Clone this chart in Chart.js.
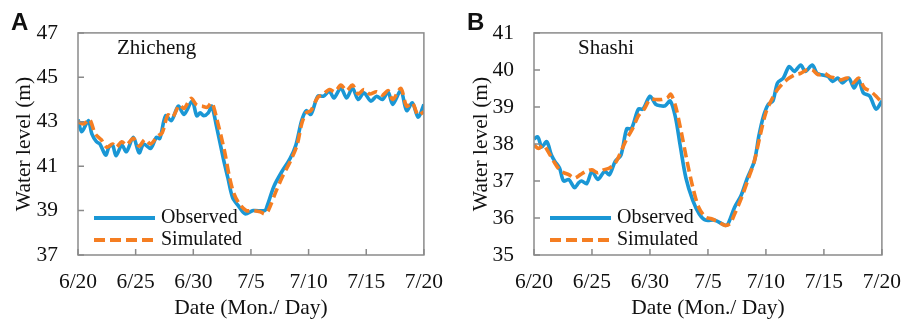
<!DOCTYPE html>
<html>
<head>
<meta charset="utf-8">
<script src="https://cdn.jsdelivr.net/npm/chart.js@4.4.1/dist/chart.umd.min.js"></script>
<style>
  body { margin: 0; background: #fff; }
  #wrap { position: relative; width: 915px; height: 322px; }
  canvas { position: absolute; top: 0; }
  #chartA { left: 0; }
  #chartB { left: 457px; }
</style>
</head>
<body>
<div id="wrap">
  <canvas id="chartA" width="457" height="322"></canvas>
  <canvas id="chartB" width="458" height="322"></canvas>
</div>
<script>
// tick labels, x axis (days since 6/20)
const dateLabels = ['6/20', '6/25', '6/30', '7/5', '7/10', '7/15', '7/20'];

// Zhicheng - observed
const daysA_obs = [0, 0.33, 0.9, 1.2, 1.6, 1.9, 2.4, 2.7, 3.0, 3.3, 3.8, 4.2, 4.8, 5.3, 5.7, 6.3, 6.8, 7.1, 7.6, 8.1,
    8.7, 9.2, 9.9, 10.3, 10.6, 10.9, 11.3, 11.6, 12.0, 12.6, 13.0, 13.4, 13.9, 14.5, 15.2, 16.2, 16.4, 17.0, 17.7, 18.4,
    18.9, 19.4, 19.8, 20.2, 20.8, 21.3, 21.8, 22.2, 22.8, 23.3, 23.8, 24.3, 24.8, 25.4, 25.9, 26.4, 26.9, 27.3, 28.0, 28.5,
    29.0, 29.5, 30];
const levelA_obs = [43.1, 42.55, 43.05, 42.45, 42.1, 42.0, 41.5, 41.87, 41.95, 41.47, 41.95, 41.65, 42.3, 41.6, 42.0, 41.8, 42.3, 42.25, 43.27, 43.05,
    43.7, 43.33, 43.93, 43.27, 43.4, 43.27, 43.4, 43.7, 42.83, 41.35, 40.47, 39.6, 39.22, 38.85, 39.0, 39.0, 39.2, 40.1, 40.77, 41.35,
    41.95, 43.05, 43.5, 43.33, 44.15, 44.15, 44.37, 44.07, 44.52, 44.07, 44.52, 44.0, 44.3, 43.93, 44.15, 44.0, 44.33, 43.78, 44.4, 43.5,
    43.85, 43.2, 43.78];

// Zhicheng - simulated
const daysA_sim = [0, 0.5, 1.0, 1.5, 2.0, 2.5, 3.0, 3.3, 3.8, 4.2, 4.8, 5.3, 5.8, 6.3, 6.9, 7.3, 7.8, 8.2, 8.8, 9.2,
    9.8, 10.3, 10.8, 11.2, 11.6, 12.0, 12.7, 13.1, 13.5, 14.0, 14.6, 15.2, 15.8, 16.2, 16.5, 17.2, 17.8, 18.4, 19.0, 19.4,
    19.8, 20.2, 20.8, 21.3, 21.8, 22.3, 22.8, 23.3, 23.8, 24.3, 24.8, 25.3, 25.9, 26.4, 26.9, 27.3, 28.0, 28.5, 29.0, 29.5, 30];
const levelA_sim = [43.0, 42.9, 43.1, 42.45, 42.2, 41.85, 42.0, 41.85, 42.1, 41.95, 42.25, 41.9, 42.2, 42.0, 42.35, 42.5, 43.3, 43.2, 43.75, 43.6,
    44.05, 43.75, 43.7, 43.65, 43.85, 43.2, 41.7, 40.6, 39.8, 39.3, 39.0, 39.0, 38.95, 38.85, 39.0, 39.9, 40.6, 41.2, 41.95, 42.9,
    43.4, 43.5, 44.1, 44.25, 44.45, 44.35, 44.65, 44.4, 44.65, 44.25, 44.45, 44.25, 44.35, 44.2, 44.4, 44.0, 44.5, 43.7, 43.85, 43.3, 43.45];

// Shashi - observed
const daysB_obs = [0, 0.33, 0.67, 1.1, 1.5, 1.8, 2.2, 2.55, 3.0, 3.5, 3.85, 4.1, 4.55, 5.0, 5.5, 6.1, 6.5, 7.0, 7.5, 8.0,
    8.4, 9.0, 9.4, 10.0, 10.5, 10.9, 11.3, 11.75, 12.2, 12.6, 13.1, 13.7, 14.25, 14.8, 15.6, 16.5, 16.75, 17.3, 17.85, 18.4,
    19.0, 19.4, 19.8, 20.2, 20.6, 21.0, 21.5, 22.0, 22.45, 23.0, 23.4, 24.0, 24.4, 24.8, 25.35, 25.75, 26.2, 26.6, 27.15, 27.6,
    28.0, 28.4, 28.95, 29.5, 30];
const levelB_obs = [38.14, 38.19, 37.92, 38.06, 37.7, 37.53, 37.35, 37.0, 37.04, 36.82, 36.95, 37.0, 36.93, 37.26, 37.04, 37.26, 37.17, 37.53, 37.7, 38.41,
    38.41, 38.94, 38.94, 39.29, 39.07, 39.03, 39.03, 39.16, 38.72, 37.97, 37.08, 36.47, 36.11, 35.94, 35.94, 35.8, 35.85, 36.29, 36.6, 37.08,
    37.53, 38.23, 38.76, 39.07, 39.16, 39.65, 39.78, 40.09, 39.96, 40.13, 39.96, 40.13, 39.91, 39.87, 39.82, 39.69, 39.78, 39.65, 39.78, 39.51,
    39.73, 39.38, 39.29, 38.94, 39.16];

// Shashi - simulated
const daysB_sim = [0, 0.4, 0.8, 1.2, 1.7, 2.2, 2.6, 3.0, 3.5, 4.0, 4.5, 5.0, 5.5, 6.0, 6.5, 7.0, 7.5, 8.0, 8.5, 9.0,
    9.5, 10.0, 10.5, 11.0, 11.5, 11.8, 12.2, 12.7, 13.2, 13.7, 14.2, 14.8, 15.3, 15.9, 16.5, 16.9, 17.3, 17.9, 18.5, 19.0,
    19.5, 20.0, 20.5, 21.0, 21.5, 22.0, 22.5, 23.0, 23.5, 24.0, 24.5, 25.0, 25.5, 26.0, 26.5, 27.0, 27.5, 28.0, 28.5, 29.0,
    29.5, 30];
const levelB_sim = [37.97, 37.88, 37.97, 37.8, 37.53, 37.3, 37.22, 37.17, 37.08, 37.17, 37.26, 37.3, 37.22, 37.3, 37.35, 37.48, 37.79, 38.14, 38.41, 38.76,
    38.94, 39.2, 39.2, 39.2, 39.25, 39.34, 39.03, 38.32, 37.53, 36.82, 36.29, 36.02, 35.98, 35.89, 35.8, 35.85, 36.11, 36.55, 37.08, 37.53,
    38.23, 38.85, 39.2, 39.47, 39.65, 39.78, 39.87, 39.91, 40.0, 40.0, 39.87, 39.91, 39.82, 39.78, 39.73, 39.78, 39.65, 39.78, 39.51, 39.43,
    39.29, 39.12];

const BLUE = '#1a97d5';
const ORANGE = '#f57e22';
const SERIF = '"Liberation Serif", "Times New Roman", serif';

function toPoints(days, values) {
    return days.map((d, i) => ({ x: d, y: values[i] }));
}

// frame, inward ticks, station name, legend, panel letter
const panelDecor = {
    id: 'panelDecor',
    afterDraw(chart, args, opts) {
        const ctx = chart.ctx;
        const area = chart.chartArea;
        const xs = chart.scales.x;
        const ys = chart.scales.y;
        ctx.save();

        ctx.strokeStyle = '#8a8a8a';
        ctx.lineWidth = 1.5;
        ctx.strokeRect(area.left, area.top, area.right - area.left, area.bottom - area.top);

        ctx.beginPath();
        xs.ticks.forEach(t => {
            const px = xs.getPixelForValue(t.value);
            ctx.moveTo(px, area.bottom);
            ctx.lineTo(px, area.bottom - 6);
        });
        ys.ticks.forEach(t => {
            const py = ys.getPixelForValue(t.value);
            ctx.moveTo(area.left, py);
            ctx.lineTo(area.left + 6, py);
        });
        ctx.stroke();

        ctx.fillStyle = '#111';
        ctx.textBaseline = 'middle';
        ctx.textAlign = 'left';
        ctx.font = '21px ' + SERIF;
        ctx.fillText(opts.station, area.left + opts.stationDx, 48);

        // legend
        const x0 = area.left + 16, x1 = area.left + 77;
        ctx.lineWidth = 3.8;
        ctx.strokeStyle = BLUE;
        ctx.beginPath();
        ctx.moveTo(x0, 218);
        ctx.lineTo(x1, 218);
        ctx.stroke();
        ctx.strokeStyle = ORANGE;
        ctx.setLineDash([11, 5]);
        ctx.beginPath();
        ctx.moveTo(x0, 240);
        ctx.lineTo(x1, 240);
        ctx.stroke();
        ctx.setLineDash([]);
        ctx.font = '20px ' + SERIF;
        ctx.fillText('Observed', x1 + 6, 218);
        ctx.fillText('Simulated', x1 + 6, 240);

        ctx.font = 'bold 24px "Liberation Sans", Arial, sans-serif';
        ctx.textBaseline = 'alphabetic';
        ctx.fillText(opts.letter, opts.letterX, 30);
        ctx.restore();
    }
};

function makeChart(canvasId, obs, sim, yMin, yMax, yStep, axisWidth, rightPad, decor) {
    const ctx = document.getElementById(canvasId).getContext('2d');
    return new Chart(ctx, {
        type: 'line',
        data: {
            datasets: [
                {
                    label: 'Observed',
                    data: obs,
                    borderColor: BLUE,
                    borderWidth: 3.6,
                    pointRadius: 0,
                    tension: 0.3,
                    fill: false,
                    order: 2
                },
                {
                    label: 'Simulated',
                    data: sim,
                    borderColor: ORANGE,
                    borderWidth: 3.6,
                    borderDash: [10, 5],
                    pointRadius: 0,
                    tension: 0.3,
                    fill: false,
                    order: 1
                }
            ]
        },
        options: {
            responsive: false,
            animation: false,
            devicePixelRatio: 1,
            layout: { padding: { left: 0, right: rightPad, top: 29, bottom: 0 } },
            plugins: {
                legend: { display: false },
                tooltip: { enabled: false },
                panelDecor: decor
            },
            scales: {
                x: {
                    type: 'linear',
                    min: 0,
                    max: 30,
                    grid: { display: false, drawTicks: false },
                    border: { display: false },
                    afterFit: s => { s.height = 67; },
                    ticks: {
                        stepSize: 5,
                        autoSkip: false,
                        maxRotation: 0,
                        padding: 14,
                        color: '#111',
                        font: { family: SERIF, size: 21.5 },
                        callback: v => dateLabels[Math.round(v / 5)]
                    },
                    title: {
                        display: true,
                        text: 'Date (Mon./ Day)',
                        color: '#111',
                        font: { family: SERIF, size: 21.5, lineHeight: 1 },
                        padding: { top: 0, bottom: 3 }
                    }
                },
                y: {
                    min: yMin,
                    max: yMax,
                    grid: { display: false, drawTicks: false },
                    border: { display: false },
                    afterFit: s => { s.width = axisWidth; },
                    ticks: {
                        stepSize: yStep,
                        padding: 20,
                        color: '#111',
                        font: { family: SERIF, size: 21.5 }
                    },
                    title: {
                        display: true,
                        text: 'Water level (m)',
                        color: '#111',
                        font: { family: SERIF, size: 21.5, lineHeight: 1 },
                        padding: { top: 14, bottom: 0 }
                    }
                }
            }
        },
        plugins: [panelDecor]
    });
}

makeChart('chartA', toPoints(daysA_obs, levelA_obs), toPoints(daysA_sim, levelA_sim),
    37, 47, 2, 78, 19, { station: 'Zhicheng', stationDx: 39, letter: 'A', letterX: 11 });
makeChart('chartB', toPoints(daysB_obs, levelB_obs), toPoints(daysB_sim, levelB_sim),
    35, 41, 1, 77, 21, { station: 'Shashi', stationDx: 44, letter: 'B', letterX: 10 });
</script>
</body>
</html>
